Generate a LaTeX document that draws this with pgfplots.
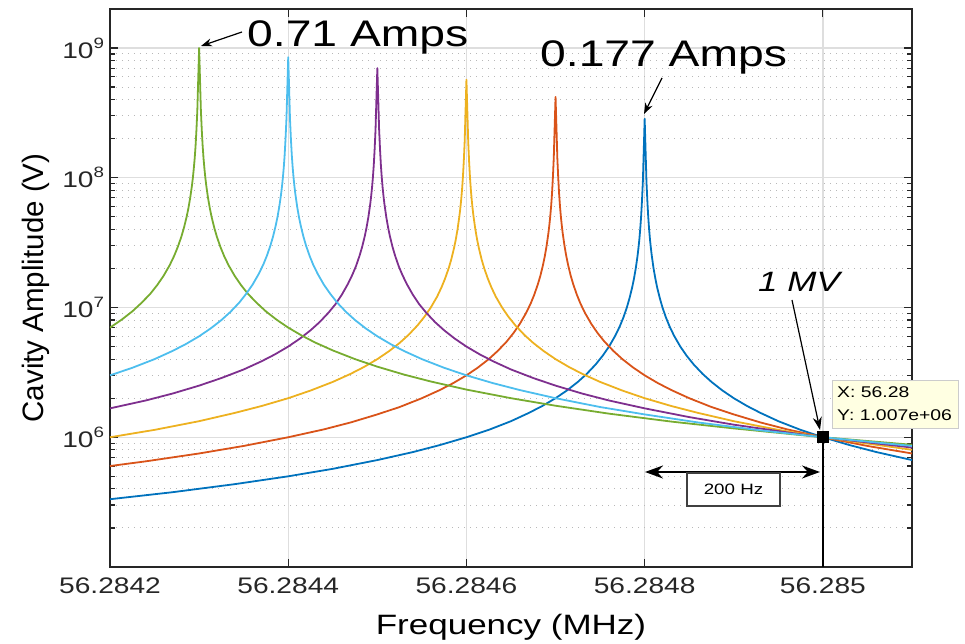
\documentclass[border=0pt]{standalone}
\usepackage{fontspec}
\setmainfont{Liberation Sans}[FakeStretch=1.25]
\newfontfamily\plainsans{Liberation Sans}
\usepackage{pgfplots}
\pgfplotsset{compat=1.18}
\usetikzlibrary{arrows.meta}
\definecolor{mblue}{rgb}{0,0.447,0.741}
\definecolor{morange}{rgb}{0.850,0.325,0.098}
\definecolor{myellow}{rgb}{0.929,0.694,0.125}
\definecolor{mpurple}{rgb}{0.494,0.184,0.556}
\definecolor{mgreen}{rgb}{0.466,0.674,0.188}
\definecolor{mcyan}{rgb}{0.301,0.745,0.933}
\definecolor{tipfill}{RGB}{255,255,226}
\newcommand{\ep}[1]{10\raisebox{10pt}{\fontsize{15}{15}\selectfont#1}}
\begin{document}
\begin{tikzpicture}
% x is the offset from 56.2842 MHz in Hz
\begin{axis}[
  at={(0,0)}, anchor=south west,
  scale only axis, width=802pt, height=558pt,
  xmin=0, xmax=900, ymode=log, ymin=1e5, ymax=2e9,
  xtick={0,200,400,600,800},
  xticklabels={56.2842,56.2844,56.2846,56.2848,56.285},
  ytick={1e6,1e7,1e8,1e9},
  yticklabels={\ep{6},\ep{7},\ep{8},\ep{9}},
  minor ytick={2e5,3e5,4e5,5e5,6e5,7e5,8e5,9e5,
               2e6,3e6,4e6,5e6,6e6,7e6,8e6,9e6,
               2e7,3e7,4e7,5e7,6e7,7e7,8e7,9e7,
               2e8,3e8,4e8,5e8,6e8,7e8,8e8,9e8},
  tick align=inside,
  major tick length=8pt, minor tick length=5pt,
  grid=both,
  major grid style={draw=black!13, line width=1.3pt},
  minor grid style={draw=black!28, line width=1pt, dash pattern=on 1.2pt off 4.8pt},
  axis line style={draw=black!85, line width=1.6pt},
  every tick/.style={draw=black!85, line width=1.2pt},
  ticklabel style={font=\fontsize{22.5}{26}\selectfont, text=black!85},
  /pgf/number format/assume math mode=true,
  xticklabel style={yshift=-7.5pt},
  yticklabel style={xshift=-2.5pt},
  xlabel={Frequency (MHz)},
  every axis x label/.style={at={(rel axis cs:0.5,0)}, anchor=base, yshift=-68pt,
    font=\fontsize{28}{32}\selectfont},
  ylabel={Cavity Amplitude (V)},
  every axis y label/.style={at={(rel axis cs:-0.0835,0.5)}, anchor=base, rotate=90,
    font=\plainsans\fontsize{29.5}{32}\selectfont},
  curve/.style={line width=1.8pt, line join=round, mark=none},
]
% 0.177 A
\addplot[curve, mblue] coordinates {
(0,3.33e5) (70,3.77e5) (140,4.35e5) (200,5e5) (250,5.71e5) (300,6.67e5) (340,7.69e5)
(370,8.7e5) (400,1e6) (425,1.14e6) (450,1.33e6) (470,1.54e6) (485,1.74e6) (500,2e6)
(513,2.3e6) (525,2.67e6) (535,3.08e6) (545,3.64e6) (553,4.26e6) (560,5e6) (567,6.06e6)
(572,7.14e6) (576,8.33e6) (580,1e7) (583,1.18e7) (586,1.43e7) (588,1.67e7) (590,2e7)
(592,2.5e7) (593,2.86e7) (594,3.33e7) (595,4e7) (596,5e7) (597,6.67e7) (598,9.4e7)
(599,1.64e8) (600,2.85e8) (601,1.64e8) (602,9.4e7) (603,6.67e7) (604,5e7) (605,4e7)
(606,3.33e7) (607,2.86e7) (608,2.5e7) (610,2e7) (612,1.67e7) (614,1.43e7) (617,1.18e7)
(620,1e7) (624,8.33e6) (628,7.14e6) (633,6.06e6) (640,5e6) (647,4.26e6) (655,3.64e6)
(665,3.08e6) (675,2.67e6) (687,2.3e6) (700,2e6) (715,1.74e6) (730,1.54e6) (750,1.33e6)
(775,1.14e6) (800,1e6) (830,8.7e5) (860,7.69e5) (900,6.67e5)};
\addplot[curve, morange] coordinates {
(0,6e5) (40,6.52e5) (100,7.5e5) (150,8.57e5) (200,1e6) (240,1.15e6) (270,1.3e6) (300,1.5e6)
(325,1.71e6) (350,2e6) (370,2.31e6) (385,2.61e6) (400,3e6) (413,3.45e6) (425,4e6)
(435,4.62e6) (445,5.45e6) (453,6.38e6) (460,7.5e6) (467,9.09e6) (472,1.07e7) (476,1.25e7)
(480,1.5e7) (483,1.76e7) (486,2.14e7) (488,2.5e7) (490,3e7) (492,3.75e7) (493,4.29e7)
(494,5e7) (495,6e7) (496,7.5e7) (497,1e8) (498,1.42e8) (499,2.46e8) (500,4.2e8)
(501,2.46e8) (502,1.42e8) (503,1e8) (504,7.5e7) (505,6e7) (506,5e7) (507,4.29e7)
(508,3.75e7) (510,3e7) (512,2.5e7) (514,2.14e7) (517,1.76e7) (520,1.5e7) (524,1.25e7)
(528,1.07e7) (533,9.09e6) (540,7.5e6) (547,6.38e6) (555,5.45e6) (565,4.62e6) (575,4e6)
(587,3.45e6) (600,3e6) (615,2.61e6) (630,2.31e6) (650,2e6) (675,1.71e6) (700,1.5e6)
(730,1.3e6) (760,1.15e6) (800,1e6) (850,8.57e5) (900,7.5e5)};
\addplot[curve, myellow] coordinates {
(0,1e6) (50,1.14e6) (100,1.33e6) (140,1.54e6) (170,1.74e6) (200,2e6) (225,2.29e6)
(250,2.67e6) (270,3.08e6) (285,3.48e6) (300,4e6) (313,4.6e6) (325,5.33e6) (335,6.15e6)
(345,7.27e6) (353,8.51e6) (360,1e7) (367,1.21e7) (372,1.43e7) (376,1.67e7) (380,2e7)
(383,2.35e7) (386,2.86e7) (388,3.33e7) (390,4e7) (392,5e7) (393,5.71e7) (394,6.67e7)
(395,8e7) (396,1e8) (397,1.33e8) (398,1.89e8) (399,3.28e8) (400,5.7e8) (401,3.28e8)
(402,1.89e8) (403,1.33e8) (404,1e8) (405,8e7) (406,6.67e7) (407,5.71e7) (408,5e7)
(410,4e7) (412,3.33e7) (414,2.86e7) (417,2.35e7) (420,2e7) (424,1.67e7) (428,1.43e7)
(433,1.21e7) (440,1e7) (447,8.51e6) (455,7.27e6) (465,6.15e6) (475,5.33e6) (487,4.6e6)
(500,4e6) (515,3.48e6) (530,3.08e6) (550,2.67e6) (575,2.29e6) (600,2e6) (630,1.74e6)
(660,1.54e6) (700,1.33e6) (750,1.14e6) (800,1e6) (900,8e5)};
\addplot[curve, mpurple] coordinates {
(0,1.67e6) (40,1.92e6) (70,2.17e6) (100,2.5e6) (125,2.86e6) (150,3.33e6) (170,3.85e6)
(185,4.35e6) (200,5e6) (213,5.75e6) (225,6.67e6) (235,7.69e6) (245,9.09e6) (253,1.06e7)
(260,1.25e7) (267,1.52e7) (272,1.79e7) (276,2.08e7) (280,2.5e7) (283,2.94e7) (286,3.57e7)
(288,4.17e7) (290,5e7) (292,6.25e7) (293,7.14e7) (294,8.33e7) (295,1e8) (296,1.25e8)
(297,1.67e8) (298,2.36e8) (299,4.1e8) (300,7e8) (301,4.1e8) (302,2.36e8) (303,1.67e8)
(304,1.25e8) (305,1e8) (306,8.33e7) (307,7.14e7) (308,6.25e7) (310,5e7) (312,4.17e7)
(314,3.57e7) (317,2.94e7) (320,2.5e7) (324,2.08e7) (328,1.79e7) (333,1.52e7) (340,1.25e7)
(347,1.06e7) (355,9.09e6) (365,7.69e6) (375,6.67e6) (387,5.75e6) (400,5e6) (415,4.35e6)
(430,3.85e6) (450,3.33e6) (475,2.86e6) (500,2.5e6) (530,2.17e6) (560,1.92e6) (600,1.67e6)
(650,1.43e6) (700,1.25e6) (760,1.09e6) (800,1e6) (900,8.33e5)};
% 0.71 A
\addplot[curve, mgreen] coordinates {
(0,7e6) (13,8.05e6) (25,9.33e6) (35,1.08e7) (45,1.27e7) (53,1.49e7) (60,1.75e7) (67,2.12e7)
(72,2.5e7) (76,2.92e7) (80,3.5e7) (83,4.12e7) (86,5e7) (88,5.83e7) (90,7e7) (92,8.75e7)
(93,1e8) (94,1.17e8) (95,1.4e8) (96,1.75e8) (97,2.33e8) (98,3.3e8) (99,5.74e8) (100,1e9)
(101,5.74e8) (102,3.3e8) (103,2.33e8) (104,1.75e8) (105,1.4e8) (106,1.17e8) (107,1e8)
(108,8.75e7) (110,7e7) (112,5.83e7) (114,5e7) (117,4.12e7) (120,3.5e7) (124,2.92e7)
(128,2.5e7) (133,2.12e7) (140,1.75e7) (147,1.49e7) (155,1.27e7) (165,1.08e7) (175,9.33e6)
(187,8.05e6) (200,7e6) (215,6.09e6) (230,5.38e6) (250,4.67e6) (275,4e6) (300,3.5e6)
(330,3.04e6) (360,2.69e6) (400,2.33e6) (450,2e6) (500,1.75e6) (560,1.52e6) (630,1.32e6)
(700,1.17e6) (800,1e6) (900,8.75e5)};
\addplot[curve, mcyan] coordinates {
(0,3e6) (25,3.43e6) (50,4e6) (70,4.62e6) (85,5.22e6) (100,6e6) (113,6.9e6) (125,8e6)
(135,9.23e6) (145,1.09e7) (153,1.28e7) (160,1.5e7) (167,1.82e7) (172,2.14e7) (176,2.5e7)
(180,3e7) (183,3.53e7) (186,4.29e7) (188,5e7) (190,6e7) (192,7.5e7) (193,8.57e7) (194,1e8)
(195,1.2e8) (196,1.5e8) (197,2e8) (198,2.83e8) (199,4.92e8) (200,8.5e8) (201,4.92e8)
(202,2.83e8) (203,2e8) (204,1.5e8) (205,1.2e8) (206,1e8) (207,8.57e7) (208,7.5e7)
(210,6e7) (212,5e7) (214,4.29e7) (217,3.53e7) (220,3e7) (224,2.5e7) (228,2.14e7)
(233,1.82e7) (240,1.5e7) (247,1.28e7) (255,1.09e7) (265,9.23e6) (275,8e6) (287,6.9e6)
(300,6e6) (315,5.22e6) (330,4.62e6) (350,4e6) (375,3.43e6) (400,3e6) (430,2.61e6)
(460,2.31e6) (500,2e6) (550,1.71e6) (600,1.5e6) (660,1.3e6) (730,1.13e6) (800,1e6)
(900,8.57e5)};
% data tip at 56.285 MHz
\addplot[black, line width=1.5pt, mark=none] coordinates {(800,1e5) (800,1.007e6)};
\addplot[black, only marks, mark=square*, mark size=5.5pt,
  mark options={line join=miter, line width=0.4pt}] coordinates {(800,1.007e6)};
\end{axis}
% annotations
\node[anchor=base west, inner sep=0, font=\fontsize{37}{40}\selectfont] at (137pt,520pt) {0.71 Amps};
\draw[-{Stealth[length=11pt,width=8pt]}, line width=1.2pt] (132pt,535pt) -- (91pt,521pt);
\node[anchor=base west, inner sep=0, font=\fontsize{37}{40}\selectfont] at (430pt,500pt) {0.177 Amps};
\draw[-{Stealth[length=11pt,width=8pt]}, line width=1.2pt] (552pt,489pt) -- (534pt,453pt);
\node[anchor=base west, inner sep=0, font=\itshape\fontsize{28}{32}\selectfont] at (648pt,275pt) {1 MV};
\draw[-{Stealth[length=13pt,width=9pt]}, line width=1.2pt] (682pt,267pt) -- (710pt,137pt);
\draw[draw=black!20, fill=tipfill] (722pt,139pt) rectangle (848pt,187pt);
\node[anchor=base west, inner sep=0, font=\fontsize{15.5}{18}\selectfont] at (727pt,169pt) {X: 56.28};
\node[anchor=base west, inner sep=0, font=\fontsize{15.5}{18}\selectfont] at (727pt,146pt) {Y: 1.007e+06};
\draw[{Stealth[length=18pt,width=13pt]}-{Stealth[length=18pt,width=13pt]}, line width=1.5pt]
  (535pt,95pt) -- (710pt,95pt);
\draw[line width=1.2pt, draw=black!75, fill=white] (577pt,61pt) rectangle (670pt,94pt);
\node[inner sep=0, font=\fontsize{15}{17}\selectfont] at (623.5pt,77.5pt) {200 Hz};
\pgfresetboundingbox
\path[use as bounding box] (-110pt,-77pt) rectangle (855pt,567pt);
\end{tikzpicture}
\end{document}
